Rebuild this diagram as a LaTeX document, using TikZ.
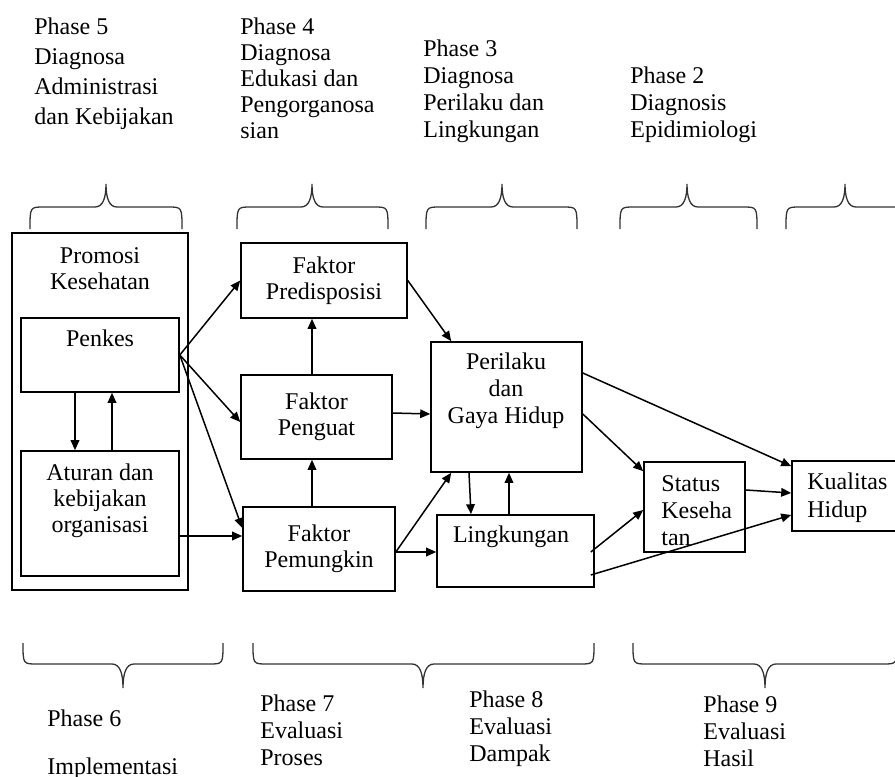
\documentclass[tikz,border=0pt]{standalone}
\usepackage{fontspec}
\setmainfont{Liberation Serif}
\usetikzlibrary{arrows.meta,calc,positioning}

\tikzset{
  blok/.style={draw, line width=0.8pt, inner sep=0pt, align=center, font=\fontsize{12}{13}\selectfont},
  teks/.style={inner sep=0pt, align=center, font=\fontsize{12}{13}\selectfont},
  fase/.style={inner sep=0pt, align=left, anchor=north west, font=\fontsize{12}{13.5}\selectfont},
  panah/.style={-{Triangle[length=5pt,width=4.3pt]}, line width=0.75pt},
  kurung/.style={line width=0.65pt, draw=black!80}
}

\newcommand{\fasebrace}[6]{%
  \draw[kurung] (#1,#4) .. controls (#1,#5) .. ({#1+14},#5) -- ({#2-11},#5)
    .. controls ({#2-3},#5) and (#2,{#5+0.4*(#6-#5)}) .. (#2,#6)
    .. controls (#2,{#5+0.4*(#6-#5)}) and ({#2+3},#5) .. ({#2+11},#5)
    -- ({#3-14},#5) .. controls (#3,#5) .. (#3,#4);}

\begin{document}
\begin{tikzpicture}[x=0.5pt,y=-0.5pt]
            \useasboundingbox (0,0) rectangle (895,777);
            \node[fase, font=\fontsize{12}{15}\selectfont] (fase5) at (34,17) {Phase 5\\Diagnosa\\Administrasi\\dan Kebijakan};
            \node[fase, font=\fontsize{12}{13}\selectfont] (fase4) at (240,17) {Phase 4\\Diagnosa\\Edukasi dan\\Pengorganosa\\sian};
            \node[fase] (fase3) at (423,39) {Phase 3\\Diagnosa\\Perilaku dan\\Lingkungan};
            \node[fase] (fase2) at (630,66) {Phase 2\\Diagnosis\\Epidimiologi};
            \node[fase] (fase6) at (47,709) {Phase 6\\[10.5pt]Implementasi};
            \node[fase] (fase7) at (260,694) {Phase 7\\Evaluasi\\Proses};
            \node[fase] (fase8) at (469,690) {Phase 8\\Evaluasi\\Dampak};
            \node[fase] (fase9) at (703,695) {Phase 9\\Evaluasi\\Hasil};

            \fasebrace{30}{106}{182}{229}{207}{184}
            \fasebrace{237}{312}{388}{229}{207}{184}
            \fasebrace{426}{502}{577}{229}{207}{184}
            \fasebrace{620}{687}{757}{229}{207}{184}
            \fasebrace{786}{845}{920}{229}{207}{184}
            \fasebrace{23}{123}{223}{643}{664}{688}
            \fasebrace{253}{423}{594}{643}{664}{688}
            \fasebrace{633}{765}{897}{643}{664}{688}

            \node[blok, minimum width=88pt, minimum height=178.5pt] (promosi) at (100,411.5) {};
            \node[blok, minimum width=79pt, minimum height=37pt] (penkes) at (100,355) {};
            \node[blok, minimum width=79pt, minimum height=62.5pt] (aturan) at (100,513.5) {};
            \node[blok, minimum width=83pt, minimum height=37.5pt] (predis) at (324,280.5) {Faktor\\Predisposisi};
            \node[blok, minimum width=75.5pt, minimum height=42pt] (penguat) at (316.5,417) {Faktor\\Penguat};
            \node[blok, minimum width=76pt, minimum height=42pt] (pemungkin) at (319,549) {Faktor\\Pemungkin};
            \node[blok, minimum width=75.5pt, minimum height=65pt] (perilaku) at (506.5,407) {};
            \node[blok, minimum width=78.5pt, minimum height=36pt] (lingkungan) at (515.5,551) {};
            \node[blok, minimum width=50.5pt, minimum height=45pt] (status) at (694.5,507) {};
            \node[blok, minimum width=60pt, minimum height=35pt] (kualitas) at (852,496) {};

            \node[teks] (promosiT) at (100,268.5) {Promosi\\Kesehatan};
            \node[teks] (penkesT) at (100,338) {Penkes};
            \node[teks] (aturanT) at (100,501) {Aturan dan\\kebijakan\\organisasi};
            \node[teks, font=\fontsize{12}{13.5}\selectfont] (perilakuT) at (506,391) {Perilaku\\dan\\Gaya Hidup};
            \node[teks] (lingkunganT) at (511,537) {Lingkungan};
            \node[teks, align=left, anchor=west, font=\fontsize{12}{13.5}\selectfont] (statusT) at (661,511) {Status\\Keseha\\tan};
            \node[teks, align=left, anchor=west, font=\fontsize{12}{14}\selectfont] (kualitasT) at (807,498) {Kualitas\\Hidup};

            \draw[panah] ([xshift=-12.5pt]penkes.south) -- ([xshift=-12.5pt]aturan.north);
            \draw[panah] ([xshift=6pt]aturan.north) -- ([xshift=6pt]penkes.south);
            \draw[panah] (penkes.east) -- (predis.west);
            \draw[panah] (penkes.east) -- ([yshift=-2.5pt]penguat.west);
            \draw[panah] (penkes.east) -- ([yshift=10.5pt]pemungkin.west);
            \draw[panah] ([yshift=-11.25pt]aturan.east) -- ([yshift=6.5pt]pemungkin.west);
            \draw[panah] ([xshift=-2.25pt]penguat.north) -- ([xshift=-6pt]predis.south);
            \draw[panah] ([xshift=-3.5pt]pemungkin.north) -- ([xshift=-2.25pt]penguat.south);
            \draw[panah] (predis.east) -- ([xshift=10.5pt]perilaku.north west);
            \draw[panah] ([yshift=2pt]penguat.east) -- ([yshift=-3.5pt]perilaku.west);
            \draw[panah] ([yshift=-1.5pt]pemungkin.east) -- ([xshift=10.5pt]perilaku.south west);
            \draw[panah] ([yshift=-1.5pt]pemungkin.east) -- ([yshift=-0.5pt]lingkungan.west);
            \draw[panah] ([xshift=-18.75pt]perilaku.south) -- ([xshift=-22.25pt]lingkungan.north);
            \draw[panah] ([xshift=-3.25pt]lingkungan.north) -- ([xshift=1.25pt]perilaku.south);
            \draw[panah] ([yshift=17pt]perilaku.east) -- ([yshift=-3pt]kualitas.north west);
            \draw[panah] ([yshift=-3.5pt]perilaku.east) -- ([yshift=-5pt]status.north west);
            \draw[panah] ([xshift=-2pt,yshift=-0.5pt]lingkungan.east) -- ([yshift=-1.5pt]status.west);
            \draw[panah] ([xshift=-2pt,yshift=-12pt]lingkungan.east) -- ([yshift=-9.5pt]kualitas.west);
            \draw[panah] ([yshift=8.5pt]status.east) -- ([yshift=1.5pt]kualitas.west);
        \end{tikzpicture}
\end{document}
